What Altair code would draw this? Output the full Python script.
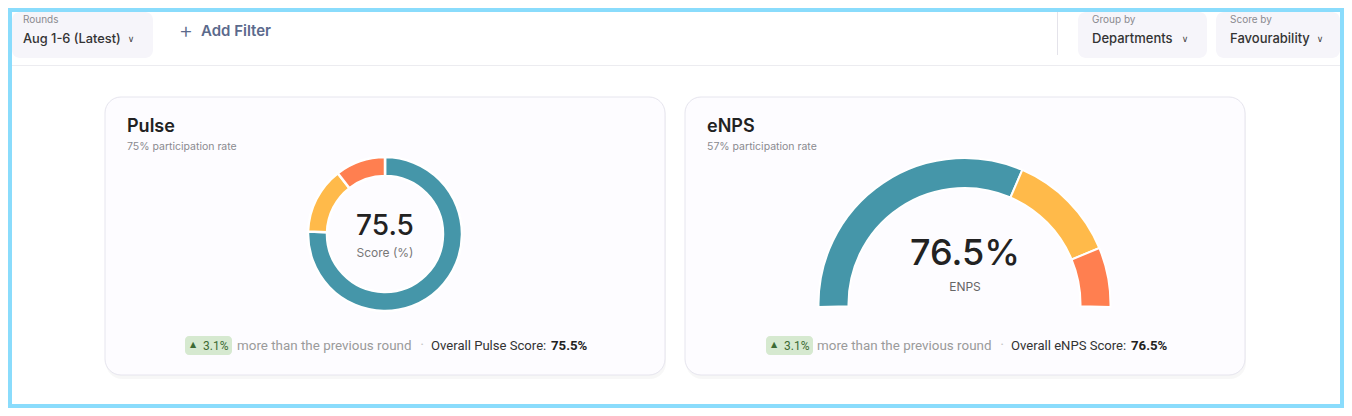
import altair as alt
import pandas as pd

# ---------------- data ----------------
segments = ["Favourable", "Neutral", "Unfavourable"]
segment_colors = ["#4596A9", "#FFBA4A", "#FF7F50"]
pulse_values = [75.5, 14.0, 10.5]
enps_values = [62.8, 24.2, 13.0]
pulse_score = "75.5"
enps_score = "76.5%"
pulse_participation = 75
enps_participation = 57
change_pct = "3.1%"

OFF = 8  # page margin


def px(v):
    return v - OFF


one = pd.DataFrame({"k": [0]})


def rect(x1, y1, x2, y2, fill, stroke=None, sw=0, r=0, op=1.0):
    kw = dict(fill=fill, cornerRadius=r, opacity=op)
    if stroke:
        kw.update(stroke=stroke, strokeWidth=sw)
    else:
        kw.update(strokeWidth=0)
    return alt.Chart(one).mark_rect(**kw).encode(
        x=alt.value(px(x1)), x2=alt.value(px(x2)),
        y=alt.value(px(y1)), y2=alt.value(px(y2)))


def txt(s, x, y, size, color, weight="normal", font="Inter", align="left"):
    return alt.Chart(one).mark_text(
        text=s, align=align, baseline="middle", font=font, fontSize=size,
        fontWeight=weight, color=color).encode(x=alt.value(px(x)), y=alt.value(px(y)))


layers = []

# outer frame border
BLUE = "#8ADCFC"
layers += [
    rect(8, 8, 12, 408, BLUE),
    rect(8, 8, 1344, 12, BLUE),
    rect(1340, 8, 1344, 408, BLUE),
    rect(8, 404, 1344, 408, BLUE),
]

# toolbar
BOX = "#F6F5FA"
CHEV = "∨"
layers += [
    rect(12, 12, 153, 58, BOX, r=8),
    rect(1078, 12, 1207, 58, BOX, r=8),
    rect(1216, 12, 1340, 58, BOX, r=8),
    rect(1057, 12, 1058, 55, "#E4E3EA"),
    rect(12, 65, 1340, 66, "#ECECF0"),
    txt("Rounds", 23, 20, 10, "#8A8A8F"),
    txt("Aug 1-6 (Latest)", 23, 39, 12.8, "#333333", weight=500),
    txt(CHEV, 131, 39, 9, "#444444", font="DejaVu Sans", align="center"),
    txt("+", 186, 31, 22, "#5B6A8C", weight=300, align="center"),
    txt("Add Filter", 201, 31, 15, "#5B6A8C", weight=600),
    txt("Group by", 1092, 20, 10, "#8A8A8F"),
    txt("Departments", 1092, 39, 13, "#333333", weight=500),
    txt(CHEV, 1185, 39, 9, "#444444", font="DejaVu Sans", align="center"),
    txt("Score by", 1230, 20, 10, "#8A8A8F"),
    txt("Favourability", 1230, 39, 13, "#333333", weight=500),
    txt(CHEV, 1320, 39, 9, "#444444", font="DejaVu Sans", align="center"),
]

# cards
for x0 in (105, 685):
    layers += [
        rect(x0 + 1, 100, x0 + 561, 379, "#000000", r=16, op=0.03),
        rect(x0, 97, x0 + 560, 375, "#FDFCFF", stroke="#E6E5EE", sw=1, r=16),
    ]

# card headers
layers += [
    txt("Pulse", 127, 126.5, 18, "#222222", weight=600),
    txt(f"{pulse_participation}% participation rate", 127, 147, 10.5, "#8A8A8F"),
    txt("eNPS", 707, 126.5, 18, "#222222", weight=600),
    txt(f"{enps_participation}% participation rate", 707, 147, 10.5, "#8A8A8F"),
]

# donut (Pulse)
pulse_df = pd.DataFrame({"segment": segments, "value": pulse_values,
                         "order": [0, 1, 2], "color": segment_colors})
donut = alt.Chart(pulse_df).mark_arc(radius=77, radius2=58, stroke="white", strokeWidth=2.5).encode(
    theta=alt.Theta("value:Q", stack=True),
    color=alt.Color("color:N", scale=None),
    order=alt.Order("order:Q"),
    x=alt.value(px(385)), y=alt.value(px(234)),
)

# gauge (eNPS)
enps_df = pd.DataFrame({"segment": segments, "value": enps_values,
                        "order": [0, 1, 2], "color": segment_colors})
gauge = alt.Chart(enps_df).mark_arc(radius=146, radius2=116, stroke="white", strokeWidth=2).encode(
    theta=alt.Theta("value:Q", stack=True, scale=alt.Scale(range=[-1.591, 1.591])),
    color=alt.Color("color:N", scale=None),
    order=alt.Order("order:Q"),
    x=alt.value(px(964.5)), y=alt.value(px(304)),
)
layers += [donut, gauge]

# centre labels
layers += [
    txt(pulse_score, 385, 227, 28, "#222222", weight=500, align="center"),
    txt("Score (%)", 385, 253, 12, "#777777", align="center"),
    txt(enps_score, 965, 254, 36, "#222222", weight=500, align="center"),
    txt("ENPS", 965, 287, 12, "#666666", align="center"),
]

# footer lines
for bx, mx, dx, ox, vx, name, val in [
    (185, 237, 422, 431, 551, "Pulse", "75.5%"),
    (766, 817, 1002, 1011, 1131, "eNPS", "76.5%"),
]:
    layers += [
        rect(bx, 336, bx + 47, 355, "#D6E9D0", r=4),
        txt("▲", bx + 8, 345, 8, "#3D6B35", font="DejaVu Sans", align="center"),
        txt(change_pct, bx + 18, 346, 12, "#3D6B35", font="Roboto"),
        txt("more than the previous round", mx, 346, 13.4, "#9A9A9A", font="Roboto"),
        txt("•", dx, 345, 8, "#C4C4C4", font="Roboto", align="center"),
        txt(f"Overall {name} Score:", ox, 346, 13.1, "#333333", font="Roboto"),
        txt(val, vx, 346, 13.2, "#222222", font="Roboto", weight="bold"),
    ]

chart = alt.layer(*layers).resolve_scale(theta="independent").properties(
    width=1336, height=400,
    autosize=alt.AutoSizeParams(type="fit", contains="padding"),
    padding=0, background="white",
).configure_view(stroke=None)

chart.save("out.html", embed_options={"renderer": "svg", "actions": False})
